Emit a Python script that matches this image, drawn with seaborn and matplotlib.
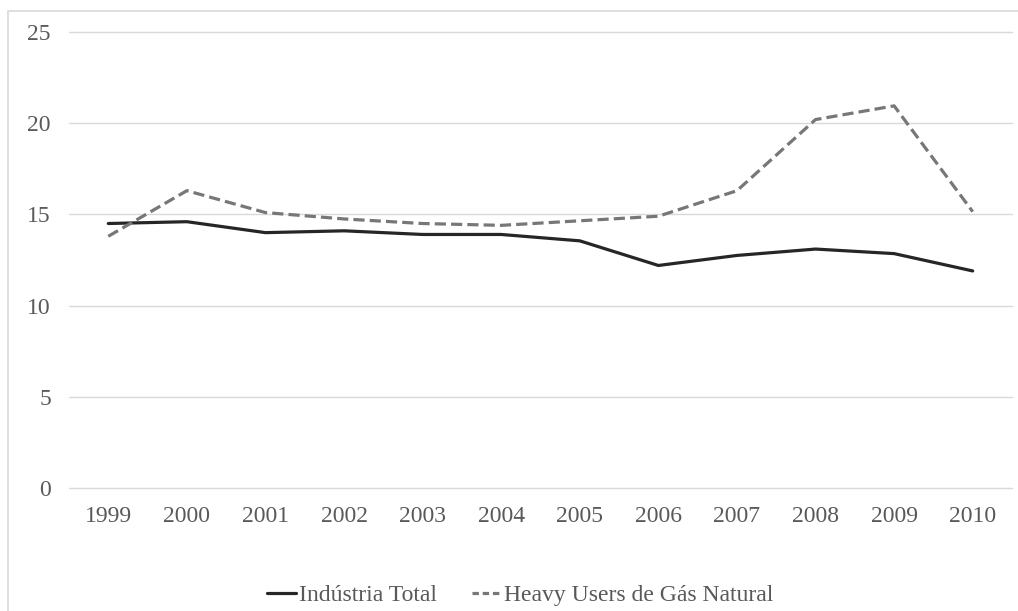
import matplotlib
matplotlib.use("Agg")
import matplotlib.pyplot as plt
import seaborn as sns
import pandas as pd
from matplotlib.patches import Rectangle
from matplotlib.lines import Line2D

years = [1999, 2000, 2001, 2002, 2003, 2004, 2005, 2006, 2007, 2008, 2009, 2010]
industria_total = [14.5, 14.6, 14.0, 14.1, 13.9, 13.9, 13.55, 12.2, 12.75, 13.1, 12.85, 11.9]
heavy_users = [13.8, 16.3, 15.1, 14.75, 14.5, 14.4, 14.65, 14.9, 16.3, 20.2, 20.95, 15.15]
series_names = ["Indústria Total", "Heavy Users de Gás Natural"]
y_ticks = [0, 5, 10, 15, 20, 25]

df = pd.DataFrame({
    "year": years * 2,
    "value": industria_total + heavy_users,
    "serie": [series_names[0]] * len(years) + [series_names[1]] * len(years),
})

sns.set_theme(style="white")
plt.rcParams["font.family"] = ["Liberation Serif", "DejaVu Serif"]
text_color = "#595959"

fig = plt.figure(figsize=(10.18, 6.11), dpi=100)
ax = fig.add_axes([69 / 1018, 1 - 488 / 611, (1012 - 69) / 1018, (488 - 32) / 611])

sns.lineplot(data=df, x="year", y="value", hue="serie", style="serie",
             palette={series_names[0]: "#262626", series_names[1]: "#777777"},
             dashes={series_names[0]: "", series_names[1]: (3.5, 1.6)},
             linewidth=2.3, ax=ax, legend=False)

ax.set_xlim(1998.5, 2010.5)
ax.set_ylim(0, 25)
ax.set_yticks(y_ticks)
ax.set_xticks(years)
ax.set_xticklabels([str(y) for y in years])
ax.grid(axis="y", color="#d9d9d9", linewidth=1.0)
ax.grid(axis="x", visible=False)
for gl in ax.get_ygridlines():
    gl.set_clip_on(False)
for s in ax.spines.values():
    s.set_visible(False)
ax.tick_params(axis="both", length=0, labelsize=17, labelcolor=text_color)
ax.tick_params(axis="y", pad=13)
ax.tick_params(axis="x", pad=13)
ax.set_xlabel("")
ax.set_ylabel("")

handles = [
    Line2D([0], [0], color="#262626", lw=2.3),
    Line2D([0], [0], color="#777777", lw=2.3, dashes=(2.0, 1.2)),
]
leg = fig.legend(handles, series_names, loc="center", bbox_to_anchor=(0.511, 1 - 595 / 611),
                 ncol=2, frameon=False, fontsize=17, handlelength=1.25, handletextpad=0.1,
                 columnspacing=1.5)
for t in leg.get_texts():
    t.set_color(text_color)

fig.patches.append(Rectangle((8 / 1018, -0.1), 1.2, 1 - 11 / 611 + 0.1,
                             transform=fig.transFigure, fill=False,
                             edgecolor="#d9d9d9", linewidth=1.2))

fig.savefig("out.png", dpi=100)
